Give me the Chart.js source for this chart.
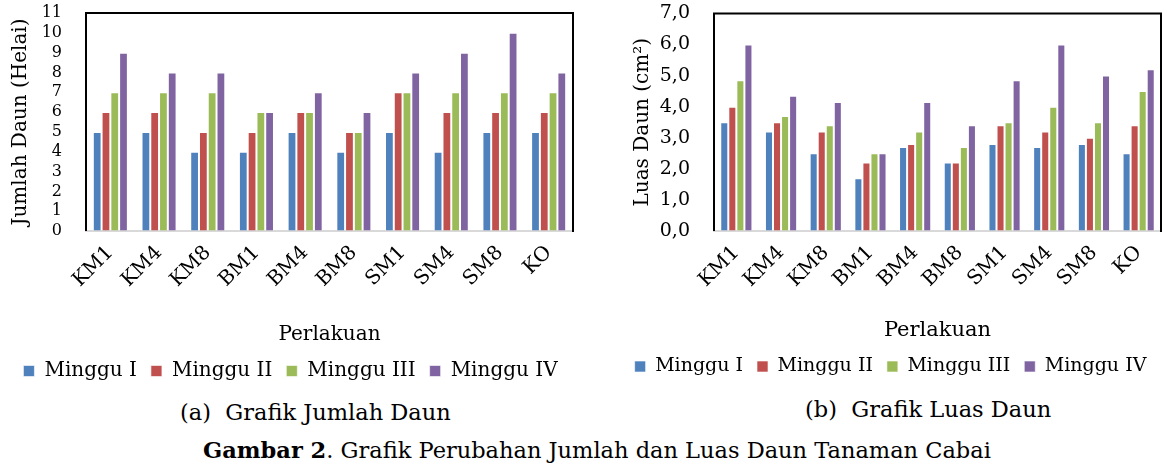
<!DOCTYPE html>
<html>
<head>
<meta charset="utf-8">
<script src="https://cdn.jsdelivr.net/npm/chart.js@4"></script>
<style>
  html, body { margin: 0; padding: 0; background: #fff; }
  body { width: 1173px; height: 472px; position: relative; overflow: hidden; }
  #c1 { position: absolute; left: 8px; top: 0; }
  #c2 { position: absolute; left: 620px; top: 0; }
  .cap { position: absolute; font-family: "DejaVu Serif", "Liberation Serif", serif; color: #000; white-space: nowrap; font-size: 22.5px; }
</style>
</head>
<body>
<canvas id="c1" width="582" height="391"></canvas>
<canvas id="c2" width="553" height="386"></canvas>
<div class="cap" style="left:180px; top:399px;">(a)&nbsp; Grafik Jumlah Daun</div>
<div class="cap" style="left:805px; top:396px;">(b)&nbsp; Grafik Luas Daun</div>
<div class="cap" style="left:203px; top:437px;"><b>Gambar 2</b>. Grafik Perubahan Jumlah dan Luas Daun Tanaman Cabai</div>
<script>
const categories = ['KM1','KM4','KM8','BM1','BM4','BM8','SM1','SM4','SM8','KO'];
const seriesNames = ['Minggu I','Minggu II','Minggu III','Minggu IV'];
const seriesColors = ['#4F81BD','#C0504D','#9BBB59','#8064A2'];

// (a) Jumlah Daun (Helai)
const jumlahI   = [5,5,4,4,5,4,5,4,5,5];
const jumlahII  = [6,6,5,5,6,5,7,6,6,6];
const jumlahIII = [7,7,7,6,6,5,7,7,7,7];
const jumlahIV  = [9,8,8,6,7,6,8,9,10,8];

// (b) Luas Daun (cm2)
const luasI   = [3.5,3.2,2.5,1.7,2.7,2.2,2.8,2.7,2.8,2.5];
const luasII  = [4.0,3.5,3.2,2.2,2.8,2.2,3.4,3.2,3.0,3.4];
const luasIII = [4.85,3.7,3.4,2.5,3.2,2.7,3.5,4.0,3.5,4.5];
const luasIV  = [6.0,4.35,4.15,2.5,4.15,3.4,4.85,6.0,5.0,5.2];

const SERIF = '"DejaVu Serif", "Liberation Serif", serif';

const frame = {
  id: 'frame',
  afterDraw(chart) {
    const a = chart.chartArea, ctx = chart.ctx;
    ctx.save();
    ctx.strokeStyle = '#000';
    ctx.lineWidth = 2;
    ctx.beginPath();
    ctx.moveTo(a.left, a.bottom);
    ctx.lineTo(a.left, a.top);
    ctx.lineTo(a.right, a.top);
    ctx.lineTo(a.right, a.bottom + 1);
    ctx.stroke();
    ctx.restore();
  }
};

function makeChart(id, seriesData, cfg) {
  const datasets = seriesData.map((d, i) => ({
    label: seriesNames[i],
    data: d,
    backgroundColor: seriesColors[i],
    borderColor: 'rgba(255,255,255,0.6)',
    borderWidth: 1,
    barPercentage: 1.0,
    categoryPercentage: cfg.catPct
  }));
  return new Chart(document.getElementById(id), {
    type: 'bar',
    data: { labels: categories, datasets },
    plugins: [frame],
    options: {
      responsive: false,
      animation: false,
      devicePixelRatio: 1,
      layout: { padding: { top: cfg.padTop, right: cfg.padRight, left: 0, bottom: 0 } },
      plugins: {
        legend: {
          position: 'bottom',
          labels: {
            color: '#000',
            font: { family: SERIF, size: cfg.legendSize },
            boxWidth: 11, boxHeight: 11,
            padding: cfg.legendPad
          }
        },
        tooltip: { enabled: false }
      },
      scales: {
        x: {
          grid: { display: false },
          border: { display: true, color: '#d9d9d9', width: 2 },
          ticks: {
            color: '#000', minRotation: 45, maxRotation: 45, padding: 2, autoSkip: false,
            font: { family: SERIF, size: cfg.xTickSize }
          },
          title: {
            display: true, text: 'Perlakuan', color: '#000',
            font: { family: SERIF, size: cfg.xTitleSize },
            padding: { top: 0, bottom: 0 }
          },
          afterFit(s) { s.height = cfg.xHeight; }
        },
        y: {
          min: 0, max: cfg.yMax,
          grid: { display: true, drawOnChartArea: false, drawTicks: true, tickLength: 22, color: 'rgba(0,0,0,0)' },
          border: { display: false },
          ticks: {
            stepSize: 1, autoSkip: false, color: '#000', padding: 2,
            font: { family: SERIF, size: cfg.yTickSize },
            callback: cfg.yFmt
          },
          title: {
            display: true, text: cfg.yTitle, color: '#000',
            font: { family: SERIF, size: cfg.yTitleSize },
            padding: { top: cfg.yTitlePad, bottom: 0 }
          },
          afterFit(s) { s.width = cfg.yWidth; }
        }
      }
    }
  });
}

makeChart('c1', [jumlahI, jumlahII, jumlahIII, jumlahIV], {
  catPct: 0.72, padTop: 13, padRight: 17,
  legendSize: 20, legendPad: 14,
  xTickSize: 20, xTitleSize: 20, xHeight: 116,
  yMax: 11, yTickSize: 16, yFmt: v => String(v),
  yTitle: 'Jumlah Daun (Helai)', yTitleSize: 20, yTitlePad: 1, yWidth: 78
});

makeChart('c2', [luasI, luasII, luasIII, luasIV], {
  catPct: 0.72, padTop: 12, padRight: 12,
  legendSize: 19, legendPad: 14,
  xTickSize: 20, xTitleSize: 21, xHeight: 112,
  yMax: 7, yTickSize: 19, yFmt: v => v.toFixed(1).replace('.', ','),
  yTitle: 'Luas Daun (cm²)', yTitleSize: 20, yTitlePad: 11, yWidth: 94
});
</script>
</body>
</html>
